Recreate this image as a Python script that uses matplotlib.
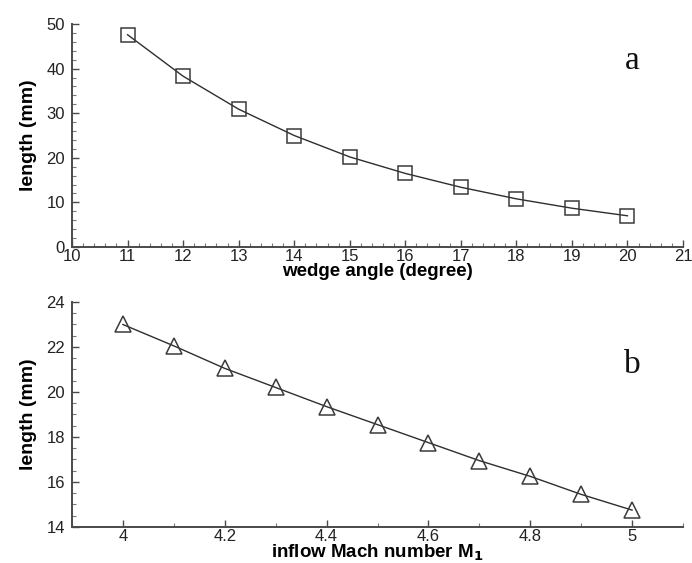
import matplotlib
matplotlib.use("Agg")
import matplotlib.pyplot as plt
from matplotlib.ticker import MultipleLocator, FuncFormatter

# Panel a data
wedge_angle = [11, 12, 13, 14, 15, 16, 17, 18, 19, 20]
length_a = [47.6, 38.3, 30.9, 25.0, 20.2, 16.5, 13.4, 10.8, 8.7, 7.0]

# Panel b data
mach = [4.0, 4.1, 4.2, 4.3, 4.4, 4.5, 4.6, 4.7, 4.8, 4.9, 5.0]
length_b = [23.0, 22.05, 21.05, 20.2, 19.35, 18.55, 17.75, 16.95, 16.25, 15.45, 14.75]

plt.rcParams['font.family'] = ['Liberation Sans', 'DejaVu Sans']

fig = plt.figure(figsize=(6.92, 5.63), dpi=100)
W, H = 692, 563
axA = fig.add_axes([72 / W, 1 - 247 / H, 611 / W, 223 / H])
axB = fig.add_axes([72 / W, 1 - 527 / H, 611 / W, 225 / H])

line_col = '#2e2e2e'
mk_col = '#3a3a3a'
spine_col = '#4a4a4a'

axA.plot(wedge_angle, length_a, color=line_col, lw=1.0, marker='s', ms=9.5,
         mfc='none', mec=mk_col, mew=1.1)
axB.plot(mach, length_b, color=line_col, lw=1.0, marker='^', ms=11,
         mfc='none', mec=mk_col, mew=1.1)

axA.set_xlim(10, 21)
axA.set_ylim(0, 50)
axA.xaxis.set_major_locator(MultipleLocator(1))
axA.xaxis.set_minor_locator(MultipleLocator(0.2))
axA.yaxis.set_major_locator(MultipleLocator(10))
axA.yaxis.set_minor_locator(MultipleLocator(2))

axB.set_xlim(3.9, 5.1)
axB.set_ylim(14, 24)
axB.xaxis.set_major_locator(MultipleLocator(0.2))
axB.xaxis.set_minor_locator(MultipleLocator(0.1))
axB.yaxis.set_major_locator(MultipleLocator(2))
axB.yaxis.set_minor_locator(MultipleLocator(0.5))
axB.xaxis.set_major_formatter(FuncFormatter(lambda v, p: '%g' % round(v, 2)))

for ax in (axA, axB):
    ax.spines['top'].set_visible(False)
    ax.spines['right'].set_visible(False)
    for s in ('left', 'bottom'):
        ax.spines[s].set_color(spine_col)
        ax.spines[s].set_linewidth(1.4)
    ax.tick_params(which='major', direction='in', length=5, width=1.0,
                   color=spine_col, labelsize=12, labelcolor='#222222')
    ax.tick_params(which='minor', direction='in', length=3, width=0.8,
                   color='#777777')
    ax.tick_params(axis='x', which='major', pad=1.5)
    ax.tick_params(axis='y', which='major', pad=5)
    ax.set_ylabel('length (mm)', fontsize=14, fontweight='bold', labelpad=7)

axA.set_xlabel('wedge angle (degree)', fontsize=13.5, fontweight='bold', labelpad=-1)
axB.set_xlabel('inflow Mach number M$_\\mathbf{1}$', fontsize=13.5,
               fontweight='bold', labelpad=-1)

axA.text(0.917, 0.80, 'a', transform=axA.transAxes, ha='center', va='baseline',
         fontsize=24, family=['Liberation Serif', 'DejaVu Serif'], color='#111111')
axB.text(0.917, 0.685, 'b', transform=axB.transAxes, ha='center', va='baseline',
         fontsize=24, family=['Liberation Serif', 'DejaVu Serif'], color='#111111')

fig.savefig('out.png', dpi=100)
